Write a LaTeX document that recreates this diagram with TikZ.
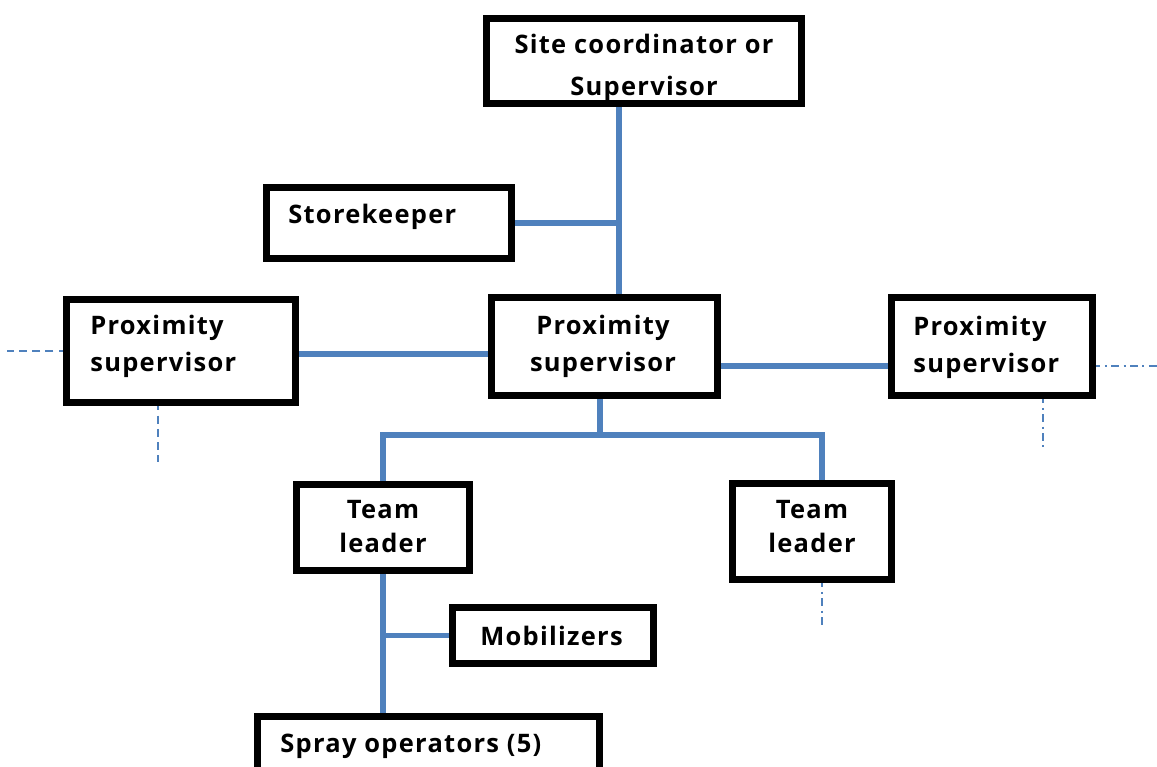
\documentclass[tikz,border=0pt]{standalone}
\usepackage{fontspec}
\setmainfont{Open Sans}[LetterSpace=5]
\usetikzlibrary{positioning,backgrounds}
\definecolor{linkblue}{HTML}{4F81BD}

\begin{document}
\begin{tikzpicture}[x=0.02cm,y=-0.02cm,
  frame/.style={draw=black,line width=3.9pt,fill=white,inner sep=0pt,outer sep=0pt},
  lbl/.style={inner sep=0pt,font=\bfseries\fontsize{14.5}{21}\selectfont},
  link/.style={draw=linkblue,line width=3.2pt},
  dashln/.style={draw=linkblue,line width=0.8pt,dash pattern=on 4.5pt off 3pt},
  dotdashln/.style={draw=linkblue,line width=0.8pt,dash pattern=on 4.5pt off 2.5pt on 1.2pt off 2.5pt}]
\useasboundingbox (0,0) rectangle (1157,767);
\clip (0,0) rectangle (1157,767);
% frames
\node[frame,minimum width=6.3cm,minimum height=1.7cm] (site) at (644,61) {};
\node[frame,minimum width=4.9cm,minimum height=1.42cm] (store) at (389,223) {};
\node[frame,minimum width=4.58cm,minimum height=2.06cm] (pleft) at (181,351) {};
\node[frame,minimum width=4.52cm,minimum height=1.96cm] (pmid) at (604.5,346.5) {};
\node[frame,minimum width=4.02cm,minimum height=1.96cm] (pright) at (992,346.5) {};
\node[frame,minimum width=3.46cm,minimum height=1.72cm] (tl1) at (383,527.5) {};
\node[frame,minimum width=3.18cm,minimum height=1.92cm] (tl2) at (812,531.5) {};
\node[frame,minimum width=4.02cm,minimum height=1.12cm] (mob) at (553,635.5) {};
\node[frame,minimum width=6.84cm,minimum height=2cm] (spray) at (428.5,766.5) {};
% texts
\node[lbl,align=center,anchor=north,font=\bfseries\fontsize{14.5}{23.8}\selectfont] (site-t) at (644,34) {Site coordinator or\\Supervisor};
\node[lbl,anchor=north west] (store-t) at (288,204) {Storekeeper};
\node[lbl,align=left,anchor=north west] (pleft-t) at (90,315) {Proximity\\supervisor};
\node[lbl,align=center,anchor=north] (pmid-t) at (603,315) {Proximity\\supervisor};
\node[lbl,align=left,anchor=north west] (pright-t) at (913,316) {Proximity\\supervisor};
\node[lbl,align=center,anchor=north,font=\bfseries\fontsize{14.5}{19.3}\selectfont] (tl1-t) at (383,500) {Team\\leader};
\node[lbl,align=center,anchor=north,font=\bfseries\fontsize{14.5}{19.3}\selectfont] (tl2-t) at (812,500) {Team\\leader};
\node[lbl,anchor=north west] (mob-t) at (480,626) {Mobilizers};
\node[lbl,anchor=north west] (spray-t) at (280,734) {Spray operators (5)};
% connectors
\begin{scope}[on background layer]
\coordinate (j1) at (619,223);
\coordinate (hub) at (600,435);
\draw[link] (site.south -| j1) -- (pmid.north -| j1);
\draw[link] (store.east) -- (j1);
\draw[link] (pleft.east |- 0,354) -- (pmid.west |- 0,354);
\draw[link] (pmid.east |- 0,366) -- (pright.west |- 0,366);
\draw[link] (pmid.south -| hub) -- (hub);
\draw[link] (tl1.north) |- (hub) -| (tl2.north -| 822,0);
\draw[link] (tl1.south) -- (tl1.south |- spray.north);
\draw[link] (mob.west) -- (mob.west -| tl1.south);
% loose ends
\draw[dashln] (pleft.west) -- (7,351);
\draw[dashln] (pleft.south -| 158,0) -- (158,462);
\draw[dotdashln] (pright.east |- 0,366) -- (1157,366);
\draw[dotdashln] (pright.south -| 1043,0) -- (1043,448);
\draw[dotdashln] (tl2.south -| 822,0) -- (822,627);
\end{scope}
\end{tikzpicture}
\end{document}
